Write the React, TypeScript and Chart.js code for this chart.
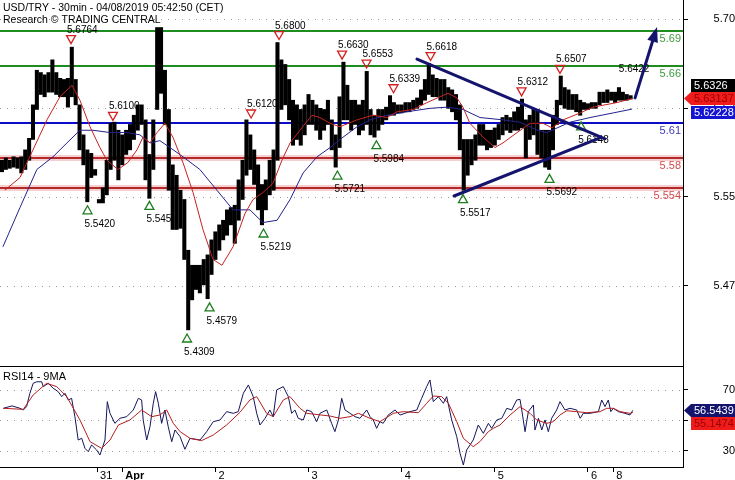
import React, { useEffect, useRef } from "react";
import { Chart, registerables } from "chart.js";
Chart.register(...registerables);

const FF = '"Liberation Sans", Arial, Helvetica, sans-serif';

// ---- price panel: hourly high / low (x in 30-min bar units) ----
const barHigh = [
  5.578, 5.580, 5.578, 5.581, 5.580, 5.581, 5.587, 5.597, 5.626, 5.656,
  5.654, 5.652, 5.654, 5.665, 5.654, 5.649, 5.648, 5.649, 5.676, 5.648,
  5.626, 5.600, 5.587, 5.584, 5.570, 5.544, 5.554, 5.578, 5.610, 5.611,
  5.604, 5.600, 5.604, 5.609, 5.617, 5.626, 5.626, 5.613, 5.583, 5.613,
  5.693, 5.693, 5.656, 5.622, 5.574, 5.565, 5.552, 5.544, 5.500, 5.487,
  5.487, 5.487, 5.492, 5.496, 5.509, 5.516, 5.522, 5.526, 5.535, 5.537,
  5.539, 5.561, 5.578, 5.613, 5.600, 5.587, 5.574, 5.557, 5.561, 5.578,
  5.587, 5.680, 5.665, 5.661, 5.648, 5.630, 5.626, 5.622, 5.626, 5.635,
  5.630, 5.626, 5.623, 5.622, 5.630, 5.613, 5.600, 5.633, 5.663, 5.643,
  5.630, 5.630, 5.626, 5.630, 5.655, 5.622, 5.617, 5.622, 5.622, 5.624,
  5.634, 5.628, 5.626, 5.626, 5.628, 5.628, 5.630, 5.632, 5.639, 5.648,
  5.662, 5.652, 5.649, 5.648, 5.648, 5.641, 5.639, 5.635, 5.626, 5.596,
  5.596, 5.596, 5.600, 5.609, 5.609, 5.604, 5.604, 5.606, 5.609, 5.615,
  5.617, 5.615, 5.620, 5.624, 5.631, 5.613, 5.617, 5.623, 5.622, 5.604,
  5.604, 5.604, 5.617, 5.630, 5.651, 5.641, 5.639, 5.635, 5.635, 5.630,
  5.628, 5.627, 5.628, 5.628, 5.637, 5.637, 5.639, 5.637, 5.637, 5.641,
  5.637, 5.635, 5.634,
];
const barLow = [
  5.568, 5.570, 5.571, 5.572, 5.571, 5.567, 5.570, 5.578, 5.596, 5.622,
  5.635, 5.633, 5.637, 5.637, 5.635, 5.633, 5.633, 5.624, 5.633, 5.626,
  5.587, 5.574, 5.542, 5.563, 5.565, 5.541, 5.541, 5.548, 5.570, 5.578,
  5.561, 5.574, 5.583, 5.587, 5.596, 5.604, 5.609, 5.561, 5.545, 5.570,
  5.622, 5.636, 5.609, 5.552, 5.518, 5.518, 5.519, 5.492, 5.431, 5.457,
  5.466, 5.463, 5.470, 5.458, 5.479, 5.492, 5.500, 5.509, 5.513, 5.522,
  5.506, 5.526, 5.544, 5.565, 5.570, 5.557, 5.535, 5.522, 5.535, 5.548,
  5.552, 5.578, 5.622, 5.626, 5.613, 5.591, 5.596, 5.591, 5.600, 5.609,
  5.609, 5.604, 5.596, 5.604, 5.609, 5.587, 5.572, 5.589, 5.613, 5.613,
  5.604, 5.609, 5.600, 5.604, 5.609, 5.600, 5.598, 5.604, 5.609, 5.613,
  5.617, 5.617, 5.619, 5.619, 5.620, 5.620, 5.622, 5.623, 5.626, 5.630,
  5.635, 5.633, 5.633, 5.630, 5.630, 5.623, 5.620, 5.613, 5.587, 5.552,
  5.565, 5.574, 5.578, 5.591, 5.591, 5.587, 5.589, 5.591, 5.596, 5.600,
  5.604, 5.602, 5.604, 5.604, 5.606, 5.580, 5.596, 5.600, 5.583, 5.580,
  5.572, 5.570, 5.587, 5.609, 5.626, 5.623, 5.622, 5.622, 5.620, 5.617,
  5.622, 5.622, 5.623, 5.623, 5.626, 5.628, 5.628, 5.630, 5.628, 5.630,
  5.630, 5.630, 5.631,
];
const barX = barHigh.map((_, i) => i * 2);

// short moving average (red)
const maFastX = [1.5, 9.3, 16, 23.2, 29.9, 36.1, 40.2, 45.4, 50.5, 54.1, 59.8, 64.9, 69.6, 72.7, 76.3, 79.9, 84, 88.1, 93.3, 98.5, 103.6, 108.8, 113.4, 119.1, 125.3, 129.4, 134.5, 139.7, 144.3, 148.5, 153.6, 159.8, 163.9, 169.1, 174.2, 183, 191.2, 198.5, 203.6, 211.9, 219.1, 225.8, 229.9, 234.5, 237.6, 241.2, 248, 254.1, 258.2, 265.5, 272.2, 278.9, 283.5, 289.2, 298, 304.6, 317, 324.7];
const maFastV = [5.552, 5.563, 5.587, 5.613, 5.633, 5.643, 5.630, 5.607, 5.589, 5.578, 5.570, 5.576, 5.587, 5.598, 5.593, 5.602, 5.610, 5.598, 5.576, 5.550, 5.518, 5.492, 5.487, 5.503, 5.532, 5.544, 5.550, 5.558, 5.578, 5.593, 5.604, 5.617, 5.615, 5.610, 5.607, 5.613, 5.617, 5.615, 5.620, 5.622, 5.628, 5.633, 5.636, 5.632, 5.624, 5.610, 5.598, 5.589, 5.593, 5.602, 5.610, 5.610, 5.606, 5.613, 5.619, 5.624, 5.628, 5.6314];
// long moving average (blue)
const maSlowX = [0.5, 9.3, 18, 26.3, 33.5, 40.2, 46.9, 55.7, 64.4, 71.1, 76.3, 81.4, 86.6, 93.3, 102, 110.8, 119.1, 127.8, 134.5, 141.8, 148.5, 155.2, 162.4, 169.1, 175.8, 183, 189.7, 198.5, 208.8, 220.6, 229.4, 237.6, 246.4, 258.2, 267, 275.8, 280.9, 286.1, 292.8, 303.1, 315, 324.7];
const maSlowV = [5.503, 5.537, 5.570, 5.581, 5.593, 5.604, 5.604, 5.602, 5.602, 5.600, 5.593, 5.595, 5.589, 5.581, 5.570, 5.552, 5.535, 5.535, 5.524, 5.526, 5.544, 5.567, 5.581, 5.589, 5.598, 5.607, 5.613, 5.617, 5.620, 5.623, 5.624, 5.622, 5.615, 5.613, 5.611, 5.604, 5.602, 5.606, 5.611, 5.615, 5.619, 5.6223];

// horizontal levels
const levelValues = [5.69, 5.66, 5.61, 5.58, 5.554];
const levelLabels = ["5.69", "5.66", "5.61", "5.58", "5.554"];
const levelKinds = ["green", "green", "blue", "red", "red"];

// swing highs / lows
const peakX = [35.6, 57.2, 128.4, 142.8, 175.3, 187.9, 201.8, 220.9, 267.8, 287.6];
const peakV = [5.6764, 5.61, 5.612, 5.68, 5.663, 5.6553, 5.6339, 5.6618, 5.6312, 5.6507];
const peakLabels = ["5.6764", "5.6100", "5.6120", "5.6800", "5.6630", "5.6553", "5.6339", "5.6618", "5.6312", "5.6507"];
const troughX = [44.1, 76, 95.4, 107, 134.8, 172.9, 193, 237.6, 282.2, 298.5];
const troughV = [5.542, 5.5458, 5.4309, 5.4579, 5.5219, 5.5721, 5.5984, 5.5517, 5.5692, 5.6148];
const troughLabels = ["5.5420", "5.545", "5.4309", "5.4579", "5.5219", "5.5721", "5.5984", "5.5517", "5.5692", "5.6148"];

const targetX = 320;
const targetV = 5.6422;
const targetLabel = "5.6422";

const trendDownX = [213.9, 310.8];
const trendDownV = [5.6657, 5.5966];
const trendUpX = [233, 308.2];
const trendUpV = [5.547, 5.5973];
const arrowX = [326.3, 337.6];
const arrowV = [5.632, 5.6935];

const priceTicks = [5.7, 5.6231, 5.5462, 5.4693];
const lastClose = 5.6326;
const lastFast = 5.63137;
const lastSlow = 5.62228;

const dayTickX = [49, 62, 110, 158, 206, 254, 302, 315];
const dayTickLabels = ["31", "Apr", "2", "3", "4", "5", "6", "8"];

// ---- RSI panel ----
const rsiX = [0.7, 5.2, 9.3, 11, 12.7, 14.4, 16.1, 17.9, 20.5, 21.3, 23.9, 26.4, 29, 30.8, 32.5, 34.2, 35.9, 37.6, 39.3, 41.1, 42.8, 44.5, 46.2, 48.8, 50.5, 53.1, 54.3, 55.7, 58.2, 60.8, 64.3, 67.7, 70.3, 72, 72.8, 74.6, 76.3, 78, 79.2, 80.6, 82.3, 84, 85.7, 87.5, 89.2, 91.8, 94.3, 96.9, 102.1, 105.5, 108.9, 112.4, 115.8, 119.2, 121.8, 124.4, 127, 129.5, 131.3, 133, 135.6, 138.1, 139.8, 141.6, 145, 147.6, 149.3, 151, 152.7, 155.3, 157.1, 159.6, 162.2, 163.9, 167.4, 169.9, 171.6, 173.4, 175.1, 176.8, 179.4, 182, 184.5, 188, 189.7, 191.4, 193.1, 194.8, 196.5, 199.1, 202.6, 205.2, 207.7, 210.3, 213.8, 216.3, 218.9, 220.6, 222.3, 224.9, 227.5, 229.2, 231.8, 234.4, 236.1, 237.8, 239.5, 242.9, 245.5, 248.1, 250.7, 252.4, 255, 257.6, 260.2, 262.7, 265.3, 267, 267.9, 269.6, 271.3, 273.9, 274.7, 276.5, 278.2, 279.9, 281.6, 283.3, 285.9, 287.6, 290.2, 292.8, 296.2, 298, 299.6, 303.1, 307.4, 309.1, 310.8, 312.5, 313.8, 315.1, 317.7, 321.1, 323.7, 325.1];
const rsiV = [57.9, 59.5, 57.9, 56.8, 59, 67.8, 74.4, 75.4, 75.4, 72.2, 74.4, 71.1, 68.9, 65.6, 67.8, 63.4, 64.5, 52.4, 37, 38.1, 31.5, 29.3, 33.7, 30.4, 27.1, 37, 62.3, 54.6, 48, 51.3, 52.4, 56.8, 64.5, 63.4, 50.2, 37, 45.8, 61.2, 68.9, 61.2, 48, 56.8, 45.8, 35.9, 43.6, 39.2, 30.9, 38.1, 37, 42.5, 49.1, 50.2, 55.7, 54.6, 55.7, 67.8, 73.3, 65.6, 54.6, 46.9, 51.3, 56.8, 52.4, 70, 72.2, 65.6, 54.6, 56.8, 51.3, 50.2, 56.8, 55.7, 49.1, 54.6, 56.8, 48, 42.5, 50.2, 64.5, 56.8, 54.6, 52.4, 51.3, 56.8, 52.4, 50.2, 44.7, 49.1, 48, 53.5, 56.8, 53.5, 54.6, 55.7, 56.8, 64.5, 72.2, 76.6, 62.3, 65.6, 61.2, 65.6, 50.2, 39.2, 28.2, 20.5, 30.4, 37, 46.9, 41.4, 48, 44.7, 50.2, 51.3, 57.9, 56.8, 63.4, 63.8, 56.8, 42.5, 55.7, 60.1, 43.6, 51.3, 43.6, 50.2, 42.5, 51.3, 56.8, 62.3, 56.8, 57.9, 56.8, 51.3, 54.6, 54.6, 55.7, 63.4, 59, 63.4, 55.7, 57.9, 55.7, 54.6, 53.5, 56.54];
const rsiMaX = [0.7, 11, 16.1, 23, 28.2, 33.4, 40.2, 45.4, 51.4, 55.7, 60, 66, 72, 77.2, 81.4, 84.9, 88.3, 91.8, 96.9, 102.9, 108.9, 115.8, 122.7, 127.8, 131.3, 136.4, 139.8, 145, 148.5, 153.6, 157.1, 169.1, 174.2, 179.4, 183.7, 189.7, 194.8, 201.7, 206.9, 214.6, 218.9, 222.3, 226.6, 230.1, 234.4, 237.8, 242.9, 246.4, 250.7, 253.2, 256.7, 261.9, 267, 272.2, 275.6, 280.8, 284.2, 287.6, 291.1, 296.2, 301.4, 308.2, 311.7, 315.1, 318.6, 323.7, 325.1];
const rsiMaV = [57.9, 57.2, 66.7, 74.4, 72.2, 65.6, 50.2, 35.9, 31.5, 37, 46.9, 50.2, 56.8, 52.4, 53.5, 56.8, 48, 42.5, 38.1, 36.6, 40.3, 46.9, 55.3, 63.4, 65.6, 54.6, 52.4, 63.4, 65.6, 57.9, 54.6, 52.8, 51.3, 52.4, 54.6, 51.3, 49.1, 54.6, 55.7, 55, 61.2, 66, 65.6, 61.2, 49.1, 38.1, 32.6, 36, 42.5, 44.7, 46.9, 53.5, 59, 54.6, 50.2, 48, 49.1, 53.5, 56.3, 55.7, 55, 55.7, 57.9, 57.9, 55.7, 54.6, 55.15];
const rsiTicks = [70, 50, 30];
const lastRsi = 56.5439;
const lastRsiMa = 55.1474;

const pts = (xs: number[], vs: number[]) => xs.map((x, i) => ({ x, y: vs[i] }));
const font = (s: number, w = "normal") => `${w} ${s}px ${FF}`;

function drawBox(ctx: CanvasRenderingContext2D, text: string, yc: number, fill: string, color: string, arrow: boolean) {
  const x0 = 691, h = 13;
  const top = Math.round(yc - h / 2);
  ctx.fillStyle = fill;
  ctx.fillRect(x0, top, 735 - x0, h);
  if (arrow) {
    ctx.beginPath();
    ctx.moveTo(684, top + h / 2);
    ctx.lineTo(x0, top);
    ctx.lineTo(x0, top + h);
    ctx.closePath();
    ctx.fill();
  }
  ctx.fillStyle = color;
  ctx.font = font(11);
  ctx.textAlign = "left";
  ctx.textBaseline = "middle";
  ctx.fillText(text, 694, top + h / 2 + 0.5);
}

// Chart.js adds tick padding to the vertical axis' top/bottom padding; cancel it
const fitRightAxis = (s: any) => {
  s.width = 52;
  s.paddingTop = 0;
  s.paddingBottom = 0;
};

const priceOverlay = {
  id: "priceOverlay",
  beforeDatasetsDraw(chart: any) {
    const { ctx, chartArea: ca, scales } = chart;
    const x = scales.x, y = scales.y;
    ctx.save();
    // dotted grid
    ctx.strokeStyle = "#9a9a9a";
    ctx.lineWidth = 1;
    ctx.setLineDash([1, 6]);
    y.ticks.forEach((t: any) => {
      const py = Math.round(y.getPixelForValue(t.value)) + 0.5;
      ctx.beginPath();
      ctx.moveTo(ca.left, py);
      ctx.lineTo(ca.right, py);
      ctx.stroke();
    });
    ctx.setLineDash([]);
    // support / resistance levels
    levelValues.forEach((v, i) => {
      const py = Math.round(y.getPixelForValue(v));
      const kind = levelKinds[i];
      if (kind === "red") {
        ctx.fillStyle = "#f6d0d0";
        ctx.fillRect(ca.left, py - 3, ca.right - ca.left, 6);
        ctx.fillStyle = "#b42a2a";
      } else if (kind === "green") {
        ctx.fillStyle = "#1f8c1f";
      } else {
        ctx.fillStyle = "#0c0cc8";
      }
      ctx.fillRect(ca.left, py - 1, ca.right - ca.left, 2);
      ctx.fillStyle = kind === "red" ? "#d84a4a" : kind === "green" ? "#3c9a3c" : "#3a3ab8";
      ctx.font = font(11);
      ctx.textAlign = "right";
      ctx.textBaseline = "alphabetic";
      ctx.fillText(levelLabels[i], ca.right - 2, py + 11);
    });
    // swing markers
    ctx.lineWidth = 1.3;
    ctx.font = font(10);
    ctx.textAlign = "left";
    ctx.textBaseline = "alphabetic";
    peakX.forEach((v, i) => {
      const cx = x.getPixelForValue(v);
      const py = y.getPixelForValue(peakV[i]);
      ctx.strokeStyle = "#d42020";
      ctx.beginPath();
      ctx.moveTo(cx - 4.5, py - 11);
      ctx.lineTo(cx + 4.5, py - 11);
      ctx.lineTo(cx, py - 3);
      ctx.closePath();
      ctx.stroke();
      ctx.fillStyle = "#000";
      ctx.fillText(peakLabels[i], cx - 4, py - 14);
    });
    troughX.forEach((v, i) => {
      const cx = x.getPixelForValue(v);
      const py = y.getPixelForValue(troughV[i]);
      ctx.strokeStyle = "#1e7e1e";
      ctx.beginPath();
      ctx.moveTo(cx - 4.5, py + 12);
      ctx.lineTo(cx + 4.5, py + 12);
      ctx.lineTo(cx, py + 4);
      ctx.closePath();
      ctx.stroke();
      ctx.fillStyle = "#000";
      ctx.fillText(troughLabels[i], cx - 3, py + 25);
    });
    ctx.restore();
  },
  afterDatasetsDraw(chart: any) {
    const { ctx, scales } = chart;
    const x = scales.x, y = scales.y;
    ctx.save();
    ctx.strokeStyle = "#14146e";
    ctx.lineWidth = 3;
    ctx.lineCap = "round";
    [[trendDownX, trendDownV], [trendUpX, trendUpV]].forEach(([xs, vs]) => {
      ctx.beginPath();
      ctx.moveTo(x.getPixelForValue(xs[0]), y.getPixelForValue(vs[0]));
      ctx.lineTo(x.getPixelForValue(xs[1]), y.getPixelForValue(vs[1]));
      ctx.stroke();
    });
    ctx.fillStyle = "#000";
    ctx.font = font(10);
    ctx.textAlign = "left";
    const tx = x.getPixelForValue(targetX), ty = y.getPixelForValue(targetV);
    ctx.fillText(targetLabel, tx - 4, ty - 14);
    const ax0 = x.getPixelForValue(arrowX[0]), ay0 = y.getPixelForValue(arrowV[0]);
    const ax1 = x.getPixelForValue(arrowX[1]), ay1 = y.getPixelForValue(arrowV[1]);
    const ang = Math.atan2(ay1 - ay0, ax1 - ax0);
    const hl = 15, hw = 5.5;
    const bx = ax1 - hl * Math.cos(ang), by = ay1 - hl * Math.sin(ang);
    ctx.beginPath();
    ctx.moveTo(ax0, ay0);
    ctx.lineTo(bx, by);
    ctx.stroke();
    ctx.fillStyle = "#14146e";
    ctx.beginPath();
    ctx.moveTo(ax1, ay1);
    ctx.lineTo(bx + hw * Math.sin(ang), by - hw * Math.cos(ang));
    ctx.lineTo(bx - hw * Math.sin(ang), by + hw * Math.cos(ang));
    ctx.closePath();
    ctx.fill();
    ctx.restore();
  },
  afterDraw(chart: any) {
    const { ctx, scales } = chart;
    const y = scales.y;
    ctx.save();
    ctx.fillStyle = "#000";
    ctx.font = font(10.5);
    ctx.textAlign = "left";
    ctx.textBaseline = "alphabetic";
    ctx.fillText("USD/TRY - 30min - 04/08/2019 05:42:50 (CET)", 3, 10.5);
    ctx.fillText("Research \u00A9 TRADING CENTRAL", 3, 23);
    const yRed = y.getPixelForValue(lastFast);
    drawBox(ctx, lastFast.toFixed(5), yRed, "#f01c1c", "#9a0000", true);
    drawBox(ctx, lastClose.toFixed(4), yRed - 13, "#000", "#fff", false);
    const yBlue = Math.max(y.getPixelForValue(lastSlow), yRed + 13.5);
    drawBox(ctx, lastSlow.toFixed(5), yBlue, "#1414d2", "#fff", false);
    ctx.restore();
  },
};

const rsiOverlay = {
  id: "rsiOverlay",
  beforeDatasetsDraw(chart: any) {
    const { ctx, chartArea: ca, scales } = chart;
    const y = scales.y;
    ctx.save();
    ctx.strokeStyle = "#9a9a9a";
    ctx.lineWidth = 1;
    ctx.setLineDash([1, 6]);
    rsiTicks.forEach((v) => {
      const py = Math.round(y.getPixelForValue(v)) + 0.5;
      ctx.beginPath();
      ctx.moveTo(ca.left, py);
      ctx.lineTo(ca.right, py);
      ctx.stroke();
    });
    ctx.restore();
  },
  afterDraw(chart: any) {
    const { ctx, chartArea: ca, scales } = chart;
    const y = scales.y;
    ctx.save();
    ctx.fillStyle = "#000";
    ctx.fillRect(ca.left, ca.top, ca.right - ca.left + 1, 1);
    ctx.font = font(11);
    ctx.textAlign = "left";
    ctx.textBaseline = "alphabetic";
    ctx.fillText("RSI14 - 9MA", 3, ca.top + 14);
    const yR = y.getPixelForValue(lastRsi);
    drawBox(ctx, lastRsi.toFixed(4), yR, "#14146e", "#fff", true);
    const yM = Math.max(y.getPixelForValue(lastRsiMa), yR + 13.5);
    drawBox(ctx, lastRsiMa.toFixed(4), yM, "#f01c1c", "#9a0000", false);
    ctx.restore();
  },
};

export default function App() {
  const refA = useRef<HTMLCanvasElement>(null);
  const refB = useRef<HTMLCanvasElement>(null);

  useEffect(() => {
    const priceChart = new Chart(refA.current as HTMLCanvasElement, {
      type: "bar",
      data: {
        datasets: [
          { type: "line", data: pts(maFastX, maFastV), borderColor: "#c42222", borderWidth: 1, pointRadius: 0, tension: 0, order: 1 } as any,
          { type: "line", data: pts(maSlowX, maSlowV), borderColor: "#22228c", borderWidth: 1, pointRadius: 0, tension: 0, order: 2 } as any,
          {
            type: "bar",
            data: barX.map((x, i) => ({ x, y: [barLow[i], barHigh[i]] })),
            backgroundColor: "#000",
            borderWidth: 0,
            barThickness: 3.4,
            order: 3,
          } as any,
        ],
      },
      options: {
        animation: false,
        responsive: false,
        devicePixelRatio: 1,
        layout: { padding: 0 },
        plugins: { legend: { display: false }, tooltip: { enabled: false } },
        scales: {
          x: { type: "linear", min: -1, max: 351, display: false, offset: false },
          y: {
            position: "right",
            min: 5.3997,
            max: 5.71686,
            afterBuildTicks: (s: any) => { s.ticks = priceTicks.map((v) => ({ value: v })); },
            afterFit: fitRightAxis,
            ticks: { callback: (v: any) => Number(v).toFixed(2), color: "#000", font: { family: FF, size: 11 }, crossAlign: "far", padding: 23 },
            grid: { display: true, drawOnChartArea: false, drawTicks: true, tickLength: 5, color: "#000" },
            border: { display: true, color: "#000", width: 1 },
          },
        },
      } as any,
      plugins: [priceOverlay],
    });

    const rsiChart = new Chart(refB.current as HTMLCanvasElement, {
      type: "line",
      data: {
        datasets: [
          { data: pts(rsiMaX, rsiMaV), borderColor: "#b41e1e", borderWidth: 1, pointRadius: 0, tension: 0, order: 1 },
          { data: pts(rsiX, rsiV), borderColor: "#14145a", borderWidth: 1, pointRadius: 0, tension: 0, order: 2 },
        ],
      },
      options: {
        animation: false,
        responsive: false,
        devicePixelRatio: 1,
        layout: { padding: 0 },
        plugins: { legend: { display: false }, tooltip: { enabled: false } },
        scales: {
          x: {
            type: "linear",
            min: -1,
            max: 351,
            afterBuildTicks: (s: any) => { s.ticks = dayTickX.map((v) => ({ value: v })); },
            afterFit: (s: any) => { s.height = 13; s.paddingLeft = 0; s.paddingRight = 0; },
            ticks: {
              callback: (v: any) => { const i = dayTickX.indexOf(Number(v)); return i >= 0 ? dayTickLabels[i] : ""; },
              autoSkip: false,
              maxRotation: 0,
              minRotation: 0,
              align: "start",
              labelOffset: 3,
              padding: -3,
              color: "#000",
              font: (c: any) => ({ family: FF, size: 11, weight: c.tick && c.tick.label === "Apr" ? "bold" : "normal" }),
            },
            grid: { display: true, drawOnChartArea: false, drawTicks: true, tickLength: 5, color: "#000" },
            border: { display: true, color: "#000", width: 1 },
          },
          y: {
            position: "right",
            min: 19.2,
            max: 85.8,
            afterBuildTicks: (s: any) => { s.ticks = rsiTicks.map((v) => ({ value: v })); },
            afterFit: fitRightAxis,
            ticks: { callback: (v: any) => String(v), color: "#000", font: { family: FF, size: 11 }, crossAlign: "far", padding: 32 },
            grid: { display: true, drawOnChartArea: false, drawTicks: true, tickLength: 5, color: "#000" },
            border: { display: true, color: "#000", width: 1 },
          },
        },
      } as any,
      plugins: [rsiOverlay],
    });

    return () => {
      priceChart.destroy();
      rsiChart.destroy();
    };
  }, []);

  return (
    <div style={{ position: "absolute", left: 0, top: 0, width: 735, height: 480, background: "#fff", overflow: "hidden" }}>
      <canvas ref={refA} width={735} height={366} style={{ position: "absolute", left: 0, top: 0, width: 735, height: 366 }} />
      <canvas ref={refB} width={735} height={114} style={{ position: "absolute", left: 0, top: 366, width: 735, height: 114 }} />
    </div>
  );
}
